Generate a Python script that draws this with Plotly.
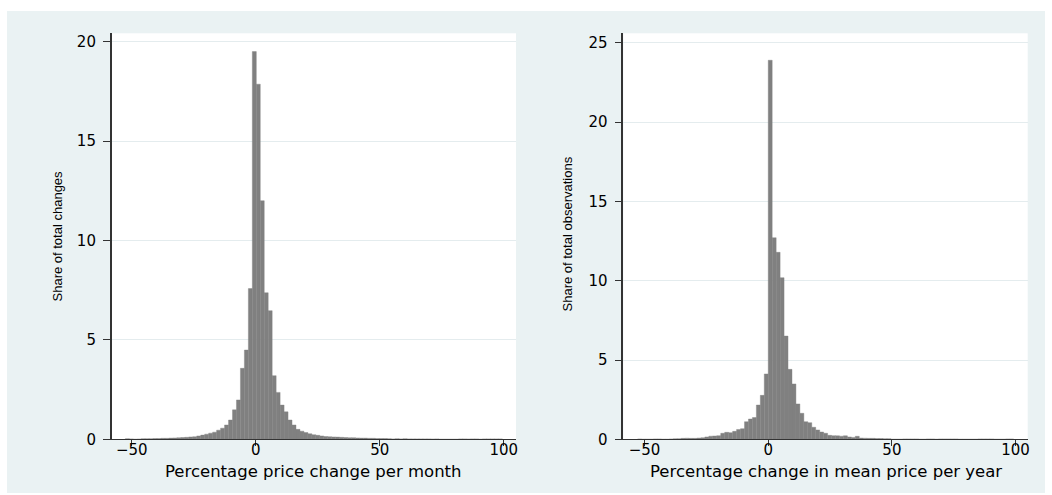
import numpy as np
import plotly.graph_objects as go

# Histogram of monthly price changes (share of total changes, %), bin width 1.6
monthly_bin_start = -52.6
monthly_bin_width = 1.6
monthly_share = [
    0.03, 0.02, 0.00, 0.01, 0.03, 0.03, 0.03, 0.04, 0.04, 0.05,
    0.05, 0.06, 0.07, 0.08, 0.09, 0.10, 0.12, 0.13, 0.17, 0.21,
    0.26, 0.31, 0.36, 0.46, 0.56, 0.72, 0.97, 1.48, 1.98, 3.57,
    4.49, 7.58, 19.50, 17.86, 12.00, 7.37, 6.47, 3.20, 2.36, 1.72,
    1.38, 0.97, 0.72, 0.50, 0.41, 0.34, 0.28, 0.23, 0.20, 0.17,
    0.14, 0.13, 0.12, 0.11, 0.10, 0.09, 0.08, 0.08, 0.07, 0.06,
    0.06, 0.05, 0.05, 0.04, 0.04, 0.04, 0.03, 0.02, 0.03, 0.02,
    0.03, 0.02, 0.02, 0.02, 0.02, 0.02, 0.02, 0.01, 0.02, 0.00,
    0.00, 0.00, 0.00, 0.00, 0.02, 0.02, 0.01, 0.02, 0.02, 0.00,
    0.02, 0.02, 0.02, 0.02, 0.02,
]

# Histogram of yearly changes in mean price (share of total observations, %)
yearly_bin_start = -52.8
yearly_bin_width = 1.6
yearly_share = [
    0.02, 0.00, 0.00, 0.00, 0.02, 0.02, 0.00, 0.00, 0.02, 0.03,
    0.04, 0.06, 0.07, 0.06, 0.06, 0.08, 0.10, 0.15, 0.20, 0.21,
    0.23, 0.38, 0.44, 0.42, 0.50, 0.62, 0.67, 1.11, 1.28, 1.37,
    2.16, 2.77, 4.12, 23.90, 12.71, 11.79, 10.19, 6.51, 4.41, 3.49,
    2.23, 1.64, 1.11, 1.05, 0.76, 0.59, 0.46, 0.38, 0.25, 0.23,
    0.22, 0.20, 0.22, 0.15, 0.12, 0.19, 0.08, 0.07, 0.06, 0.06,
    0.05, 0.05, 0.04, 0.04, 0.00, 0.00, 0.00, 0.02, 0.02, 0.02,
    0.02, 0.00, 0.00, 0.02, 0.02, 0.00, 0.02, 0.02, 0.02, 0.02,
    0.02, 0.00, 0.00, 0.00, 0.00, 0.00, 0.02, 0.02, 0.02, 0.02,
    0.00, 0.00, 0.00, 0.02, 0.02,
]

x_ticks = [-50, 0, 50, 100]
monthly_y_ticks = [0, 5, 10, 15, 20]
yearly_y_ticks = [0, 5, 10, 15, 20, 25]

monthly_xtitle = "Percentage price change per month"
monthly_ytitle = "Share of total changes"
yearly_xtitle = "Percentage change in mean price per year"
yearly_ytitle = "Share of total observations"


def centers(start, width, n):
    return start + width * (np.arange(n) + 0.5)


W, H = 1052, 495
BAR = "#808080"
BG = "#EAF2F3"
GRID = "#E4ECEE"
AXIS = "#333333"
TICK_FONT = dict(family="DejaVu Sans", size=15, color="black")
TITLE_FONT = dict(family="DejaVu Sans", size=16.5, color="black")
NARROW_FONT = dict(family="Liberation Sans Narrow, Arial Narrow, Liberation Sans, Arial",
                   size=13, color="black")

fig = go.Figure()
fig.add_trace(go.Bar(
    x=centers(monthly_bin_start, monthly_bin_width, len(monthly_share)),
    y=monthly_share, width=monthly_bin_width,
    marker=dict(color=BAR, line=dict(color=BAR, width=0.4)),
    xaxis="x", yaxis="y", showlegend=False, hoverinfo="x+y",
))
fig.add_trace(go.Bar(
    x=centers(yearly_bin_start, yearly_bin_width, len(yearly_share)),
    y=yearly_share, width=yearly_bin_width,
    marker=dict(color=BAR, line=dict(color=BAR, width=0.4)),
    xaxis="x2", yaxis="y2", showlegend=False, hoverinfo="x+y",
))


def px_x(p):
    return p / W


def px_y(p):
    return 1 - p / H


xaxis_common = dict(
    tickvals=x_ticks, ticks="outside", ticklen=6, tickwidth=1, tickcolor=AXIS,
    showline=True, linecolor=AXIS, linewidth=1.3, showgrid=False, zeroline=False,
    tickfont=TICK_FONT, automargin=False, fixedrange=True, ticklabelstandoff=-9,
)
yaxis_common = dict(
    ticks="outside", ticklen=7, tickwidth=1, tickcolor=AXIS,
    showline=True, linecolor=AXIS, linewidth=1.5, showgrid=True, gridcolor=GRID,
    gridwidth=1, zeroline=False, tickfont=TICK_FONT, automargin=False,
    ticklabelstandoff=4, fixedrange=True,
)

y_dom = [px_y(439.3), px_y(33.3)]

fig.update_layout(
    width=W, height=H,
    margin=dict(l=0, r=0, t=0, b=0),
    paper_bgcolor=BG, plot_bgcolor="white",
    barmode="overlay",
    xaxis=dict(domain=[px_x(111.7), px_x(516.0)], range=[-58.1, 104.9],
               anchor="y", **xaxis_common),
    yaxis=dict(domain=y_dom, range=[0, 20.42], tickvals=monthly_y_ticks,
               anchor="x", **yaxis_common),
    xaxis2=dict(domain=[px_x(623.3), px_x(1027.7)], range=[-58.6, 104.9],
                anchor="y2", **xaxis_common),
    yaxis2=dict(domain=y_dom, range=[0, 25.6], tickvals=yearly_y_ticks,
                anchor="x2", **yaxis_common),
    annotations=[
        dict(text=monthly_xtitle, x=px_x(313.9), y=px_y(471), xref="paper", yref="paper",
             showarrow=False, font=TITLE_FONT, xanchor="center", yanchor="middle"),
        dict(text=yearly_xtitle, x=px_x(825.5), y=px_y(471), xref="paper", yref="paper",
             showarrow=False, font=TITLE_FONT, xanchor="center", yanchor="middle"),
        dict(text=monthly_ytitle, x=px_x(57), y=px_y(236.5), xref="paper", yref="paper",
             showarrow=False, font=NARROW_FONT, textangle=-90,
             xanchor="center", yanchor="middle"),
        dict(text=yearly_ytitle, x=px_x(567.5), y=px_y(234), xref="paper", yref="paper",
             showarrow=False, font=NARROW_FONT, textangle=-90,
             xanchor="center", yanchor="middle"),
    ],
    shapes=[
        # white outer border around the graph region
        dict(type="rect", xref="paper", yref="paper", x0=0, x1=px_x(7), y0=0, y1=1,
             fillcolor="white", line=dict(width=0), layer="above"),
        dict(type="rect", xref="paper", yref="paper", x0=px_x(1045), x1=1, y0=0, y1=1,
             fillcolor="white", line=dict(width=0), layer="above"),
        dict(type="rect", xref="paper", yref="paper", x0=0, x1=1, y0=px_y(11), y1=1,
             fillcolor="white", line=dict(width=0), layer="above"),
        dict(type="rect", xref="paper", yref="paper", x0=0, x1=1, y0=0, y1=px_y(493),
             fillcolor="white", line=dict(width=0), layer="above"),
    ],
)

fig.write_html("out.html", config={"displayModeBar": False})
